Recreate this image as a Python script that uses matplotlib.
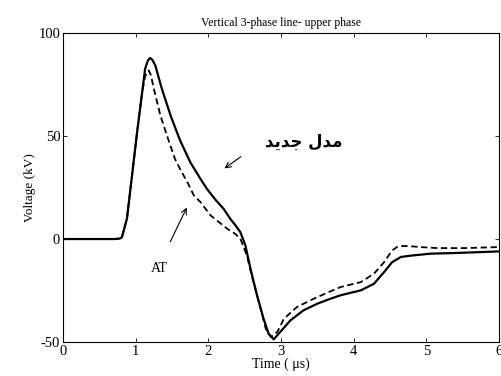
import matplotlib
matplotlib.use('Agg')
import matplotlib.pyplot as plt

# data (time in us, voltage in kV)
t_new = [0, 0.70, 0.78, 0.81, 0.88, 0.95, 1.02, 1.09, 1.13, 1.17, 1.20, 1.23, 1.27, 1.36,
         1.48, 1.61, 1.75, 1.89, 1.98, 2.10, 2.21, 2.30, 2.37, 2.44, 2.51, 2.58, 2.67,
         2.76, 2.83, 2.90, 2.99, 3.13, 3.31, 3.50, 3.68, 3.82, 4.10, 4.28, 4.42, 4.53,
         4.65, 4.80, 4.92, 5.06, 5.38, 5.70, 6.0]
v_new = [0, 0, 0.2, 0.8, 9.9, 30.9, 52, 71.4, 82.7, 86.8, 87.9, 87.0, 84.3, 73,
         60, 48, 37.4, 29.3, 24.4, 19.0, 14.7, 9.9, 6.8, 3.4, -3.1, -14.4, -27.3,
         -38.7, -46, -48.7, -45.1, -39.5, -34.6, -31.4, -29, -27.3, -24.9, -21.7, -16, -11.2,
         -8.7, -8.0, -7.6, -7.1, -6.8, -6.4, -6.0]

t_at = [0, 0.70, 0.78, 0.81, 0.88, 0.95, 1.02, 1.09, 1.13, 1.16, 1.18, 1.21, 1.25, 1.34,
        1.43, 1.54, 1.61, 1.71, 1.80, 1.89, 2.03, 2.26, 2.37, 2.44, 2.53, 2.62, 2.72,
        2.79, 2.86, 2.95, 3.04, 3.22, 3.45, 3.68, 3.82, 4.10, 4.28, 4.42, 4.53, 4.60,
        4.65, 4.75, 4.92, 5.15, 5.52, 6.0]
v_at = [0, 0, 0.2, 0.8, 9.9, 30.9, 52, 71.4, 79.0, 81.2, 81.9, 79.5, 73, 60,
        50.3, 39, 34.1, 27.7, 21.2, 18, 11.5, 5, 2.5, 0.2, -7.9, -20.9, -33.8,
        -43.5, -47.6, -45.1, -38.7, -33, -29, -25.4, -23.3, -20.9, -16.8, -11.2, -5.5, -3.8,
        -3.4, -3.4, -3.9, -4.4, -4.4, -3.9]

x_ticks = [0, 1, 2, 3, 4, 5, 6]
y_ticks = [-50, 0, 50, 100]

title = 'Vertical 3-phase line- upper phase'
label_new = '\uFEAA\uFEF3\uFEAA\uFE9F \uFEDD\uFEAA\uFEE3'  # "مدل جدید" shaped, visual order
label_at = 'AT'

plt.rcParams['font.family'] = ['Liberation Serif', 'DejaVu Serif']
plt.rcParams['axes.unicode_minus'] = False

fig = plt.figure(figsize=(5.02, 3.76), dpi=100)
ax = fig.add_axes([0.1255, 0.0904, 0.8685, 0.8216])

ax.plot(t_new, v_new, color='black', linewidth=1.6, linestyle='-')
ax.plot(t_at, v_at, color='black', linewidth=1.3, linestyle=(0, (3.5, 2)))

ax.set_xlim(0, 6)
ax.set_ylim(-50, 100)
ax.set_xticks(x_ticks)
ax.set_yticks(y_ticks)
ax.tick_params(direction='in', length=3, width=0.6, top=True, right=True, labelsize=10.5, pad=2)
for s in ax.spines.values():
    s.set_linewidth(0.8)

ax.set_title(title, fontsize=8.5, pad=5)
ax.set_xlabel('Time ( \u03bcs)', fontsize=10, labelpad=0)
ax.set_ylabel('Voltage (kV)', fontsize=9.5, labelpad=2)

ax.text(3.32, 47, label_new, fontsize=12, fontweight='bold', family='DejaVu Sans',
        ha='center', va='center')
ax.annotate('', xy=(2.19, 33.5), xytext=(2.48, 40.8),
            arrowprops=dict(arrowstyle='->', color='black', lw=0.8))
ax.annotate('', xy=(1.72, 16.5), xytext=(1.46, -2.5),
            arrowprops=dict(arrowstyle='->', color='black', lw=0.8))
ax.text(1.32, -14.5, label_at, fontsize=10, ha='center', va='center')

fig.savefig('out.png', dpi=100)
